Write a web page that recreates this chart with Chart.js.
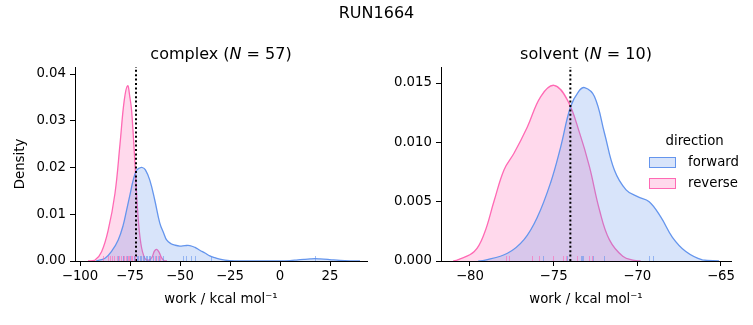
<!DOCTYPE html>
<html>
<head>
<meta charset="utf-8">
<script src="https://cdn.jsdelivr.net/npm/chart.js@4.4.1/dist/chart.umd.min.js"></script>
<style>
  html, body { margin: 0; padding: 0; background: #fff; }
  #wrap { position: relative; width: 753px; height: 325px; overflow: hidden; font-family: "DejaVu Sans", sans-serif; color: #000; }
  canvas { position: absolute; left: 0; top: 0; }
  .t { position: absolute; white-space: nowrap; transform: translate(-50%, -50%); line-height: 1; }
  .leg { position: absolute; font-size: 13.3px; line-height: 1; white-space: nowrap; }
  .patch { position: absolute; width: 25px; height: 8.5px; }
</style>
</head>
<body>
<div id="wrap">
  <canvas id="c1" width="753" height="325"></canvas>
  <canvas id="c2" width="753" height="325"></canvas>
  <div class="t" style="left:376.5px; top:13px; font-size:16px;">RUN1664</div>
  <div class="t" style="left:221px; top:54px; font-size:16px;">complex (<i>N</i> = 57)</div>
  <div class="t" style="left:586px; top:54px; font-size:16px;">solvent (<i>N</i> = 10)</div>
  <div class="leg" style="left:665.5px; top:134px;">direction</div>
  <div class="patch" style="left:649px; top:157px; background:rgba(100,149,237,0.25); border:1.2px solid #6495ED;"></div>
  <div class="leg" style="left:688px; top:155px;">forward</div>
  <div class="patch" style="left:649px; top:178px; background:rgba(255,105,180,0.25); border:1.2px solid #FF69B4;"></div>
  <div class="leg" style="left:688px; top:176px;">reverse</div>
</div>
<script>
// ---------- data ----------
const directions = ["forward", "reverse"];

// complex panel KDE curves
const complexForwardX = [-92, -87.5, -84, -80.9, -78.5, -76.7, -75, -73.4, -71.7, -70.2, -68.9, -67.3, -65.1, -62.6, -60.1, -58, -56.7, -54.5, -52.6, -50.1, -47.5, -45.1, -42.5, -40.1, -37.5, -35.1, -32.5, -30.1, -27.5, -25.2, -20, -10, 0, 5, 8.1, 12, 15, 17.5, 20, 24.8, 30, 36.3, 40];
const complexForwardY = [0, 0.0006, 0.0022, 0.0045, 0.0075, 0.0109, 0.0142, 0.0173, 0.0194, 0.0199, 0.0200, 0.0195, 0.0173, 0.0130, 0.0081, 0.0058, 0.0045, 0.0037, 0.0034, 0.0032, 0.0033, 0.0033, 0.0029, 0.0023, 0.0017, 0.0011, 0.0007, 0.0004, 0.0002, 0.0001, 0.00002, 0, 0.00002, 0.0001, 0.0002, 0.00035, 0.00045, 0.0005, 0.00045, 0.0003, 0.00012, 0.00002, 0];
const complexReverseX = [-96, -92.5, -89.2, -85.9, -82.5, -80, -77.9, -76.2, -75.05, -74.2, -72.6, -71.2, -69.6, -67.6, -65.5, -64, -62.8, -61.7, -60.5, -59.2, -58, -56.5];
const complexReverseY = [0, 0.0002, 0.0020, 0.0066, 0.0145, 0.0250, 0.0343, 0.0375, 0.0350, 0.0322, 0.0215, 0.0109, 0.0038, 0.0006, 0.0002, 0.0008, 0.0021, 0.0025, 0.0019, 0.0007, 0.0001, 0];

// solvent panel KDE curves
const solventForwardX = [-79.5, -79.15, -77.76, -76.77, -75.97, -75.18, -74.58, -73.99, -73.5, -73.15, -72.56, -71.96, -71.37, -70.67, -69.98, -69.29, -68.59, -67.9, -67.1, -66.11, -65.12];
const solventForwardY = [0, 0.00005, 0.00065, 0.0018, 0.0037, 0.0066, 0.0096, 0.0130, 0.0143, 0.01461, 0.01386, 0.01077, 0.00767, 0.0060, 0.00542, 0.0050, 0.0037, 0.0020, 0.0008, 0.0001, 0];
const solventReverseX = [-81, -80.73, -79.74, -79.15, -78.55, -77.96, -77.36, -76.57, -75.77, -74.98, -74.18, -73.45, -72.86, -72.26, -71.67, -70.87, -70.18, -69.8];
const solventReverseY = [0, 0.0001, 0.0008, 0.0023, 0.0051, 0.0077, 0.0091, 0.0113, 0.01386, 0.01481, 0.01358, 0.0108, 0.00795, 0.0043, 0.0018, 0.0004, 0.00005, 0];

// rug samples
const complexForwardRug = [-81.2, -78.6, -76.5, -74.8, -72.9, -71.5, -70.8, -70.1, -69.4, -68.7, -68.0, -67.2, -66.5, -65.7, -64.8, -63.6, -62.2, -60.5, -58.4, -48.4, -46.8, -44.6, -42.6, -34.3, 17.6];
const complexReverseRug = [-88.4, -86.0, -85.2, -84.0, -82.9, -81.7, -80.7, -79.5, -78.7, -77.9, -77.0, -76.2, -75.4, -74.6, -73.8, -73.0, -72.5, -62.5, -61.0, -60.0];
const solventForwardRug = [-75.63, -74.19, -73.39, -73.31, -73.25, -72.62, -72.0, -69.33, -69.09];
const solventReverseRug = [-77.82, -77.66, -76.27, -75.87, -75.04, -74.44, -74.29, -73.61, -72.9, -72.7];

// reference (dotted) lines
const complexMarker = -72.0;
const solventMarker = -74.0;

// axes ranges and ticks
const complexXRange = [-102.5, 43.5];
const complexYRange = [0, 0.0415];
const complexXTicks = [-100, -75, -50, -25, 0, 25];
const complexXTickLabels = ["\u2212100", "\u221275", "\u221250", "\u221225", "0", "25"];
const complexYTicks = [0, 0.01, 0.02, 0.03, 0.04];
const complexYTickLabels = ["0.00", "0.01", "0.02", "0.03", "0.04"];

const solventXRange = [-81.73, -64.4];
const solventYRange = [0, 0.01635];
const solventXTicks = [-80, -75, -70, -65];
const solventXTickLabels = ["\u221280", "\u221275", "\u221270", "\u221265"];
const solventYTicks = [0, 0.005, 0.010, 0.015];
const solventYTickLabels = ["0.000", "0.005", "0.010", "0.015"];

const xLabel = "work / kcal mol\u207B\u00B9";
const yLabel = "Density";

// ---------- styling ----------
const BLUE = "#6495ED", PINK = "#FF69B4";
const BLUE_FILL = "rgba(100,149,237,0.25)", PINK_FILL = "rgba(255,105,180,0.25)";
const FONT = "'DejaVu Sans', sans-serif";

const zip = (xs, ys) => xs.map((x, i) => ({x: x, y: ys[i]}));

const rugPlugin = {
  id: 'rug',
  afterDatasetsDraw(chart, args, opts) {
    const ctx = chart.ctx, xs = chart.scales.x, ys = chart.scales.y;
    const y0 = ys.getPixelForValue(0);
    ctx.save();
    ctx.lineWidth = 1;
    (opts.sets || []).forEach(set => {
      ctx.strokeStyle = set.color;
      set.values.forEach(v => {
        const px = Math.round(xs.getPixelForValue(v)) + 0.5;
        ctx.beginPath();
        ctx.moveTo(px, y0);
        ctx.lineTo(px, y0 - 5);
        ctx.stroke();
      });
    });
    ctx.restore();
  }
};

function makeChart(id, cfg) {
  const kde = (label, xs, ys, line, fill) => ({
    label: label, data: zip(xs, ys), borderColor: line, backgroundColor: fill,
    borderWidth: 1.3, pointRadius: 0, fill: 'origin', tension: 0.4
  });
  return new Chart(document.getElementById(id), {
    type: 'line',
    data: {
      datasets: [
        { label: 'marker', data: [{x: cfg.marker, y: cfg.yRange[0]}, {x: cfg.marker, y: cfg.yRange[1]}],
          borderColor: '#000', borderWidth: 2, borderDash: [2, 2.4], pointRadius: 0, fill: false },
        kde(directions[0], cfg.fx, cfg.fy, BLUE, BLUE_FILL),
        kde(directions[1], cfg.rx, cfg.ry, PINK, PINK_FILL)
      ]
    },
    options: {
      responsive: false, animation: false, devicePixelRatio: 1,
      layout: { padding: { left: 0, right: cfg.padRight, top: 67, bottom: 0 } },
      plugins: {
        legend: { display: false }, tooltip: { enabled: false }, title: { display: false },
        rug: { sets: [
          { values: cfg.rugR, color: 'rgba(255,105,180,0.6)' },
          { values: cfg.rugF, color: 'rgba(100,149,237,0.6)' }
        ] }
      },
      scales: {
        x: {
          type: 'linear', min: cfg.xRange[0], max: cfg.xRange[1],
          afterBuildTicks: s => { s.ticks = cfg.xTicks.map(v => ({value: v})); },
          afterFit: s => { s.height = 64; s.paddingLeft = 0; s.paddingRight = 0; },
          ticks: { callback: (v, i) => cfg.xTickLabels[i], color: '#000', padding: 3,
                   font: { family: FONT, size: 13.3 }, maxRotation: 0, autoSkip: false },
          grid: { drawOnChartArea: false, drawTicks: true, tickLength: 5, tickColor: '#000', tickWidth: 1 },
          border: { display: true, color: '#000', width: 1 },
          title: { display: true, text: xLabel, color: '#000', font: { family: FONT, size: 13.3 }, padding: { top: 0, bottom: 17 } }
        },
        y: {
          type: 'linear', min: cfg.yRange[0], max: cfg.yRange[1],
          afterBuildTicks: s => { s.ticks = cfg.yTicks.map(v => ({value: v})); },
          afterFit: s => { s.width = cfg.yWidth; s.paddingTop = 0; s.paddingBottom = 0; },
          ticks: { callback: (v, i) => cfg.yTickLabels[i], color: '#000', padding: 4,
                   font: { family: FONT, size: 13.3 }, autoSkip: false },
          grid: { drawOnChartArea: false, drawTicks: true, tickLength: 5, tickColor: '#000', tickWidth: 1 },
          border: { display: true, color: '#000', width: 1 },
          title: { display: cfg.yTitle, text: yLabel, color: '#000', font: { family: FONT, size: 13.3 }, padding: { top: 13, bottom: 0 } }
        }
      }
    },
    plugins: [rugPlugin]
  });
}

makeChart('c1', {
  marker: complexMarker, xRange: complexXRange, yRange: complexYRange,
  xTicks: complexXTicks, xTickLabels: complexXTickLabels, yTicks: complexYTicks, yTickLabels: complexYTickLabels,
  fx: complexForwardX, fy: complexForwardY, rx: complexReverseX, ry: complexReverseY,
  rugF: complexForwardRug, rugR: complexReverseRug,
  padRight: 753 - 367, yWidth: 75, yTitle: true
});
makeChart('c2', {
  marker: solventMarker, xRange: solventXRange, yRange: solventYRange,
  xTicks: solventXTicks, xTickLabels: solventXTickLabels, yTicks: solventYTicks, yTickLabels: solventYTickLabels,
  fx: solventForwardX, fy: solventForwardY, rx: solventReverseX, ry: solventReverseY,
  rugF: solventForwardRug, rugR: solventReverseRug,
  padRight: 753 - 731, yWidth: 441, yTitle: false
});
</script>
</body>
</html>
